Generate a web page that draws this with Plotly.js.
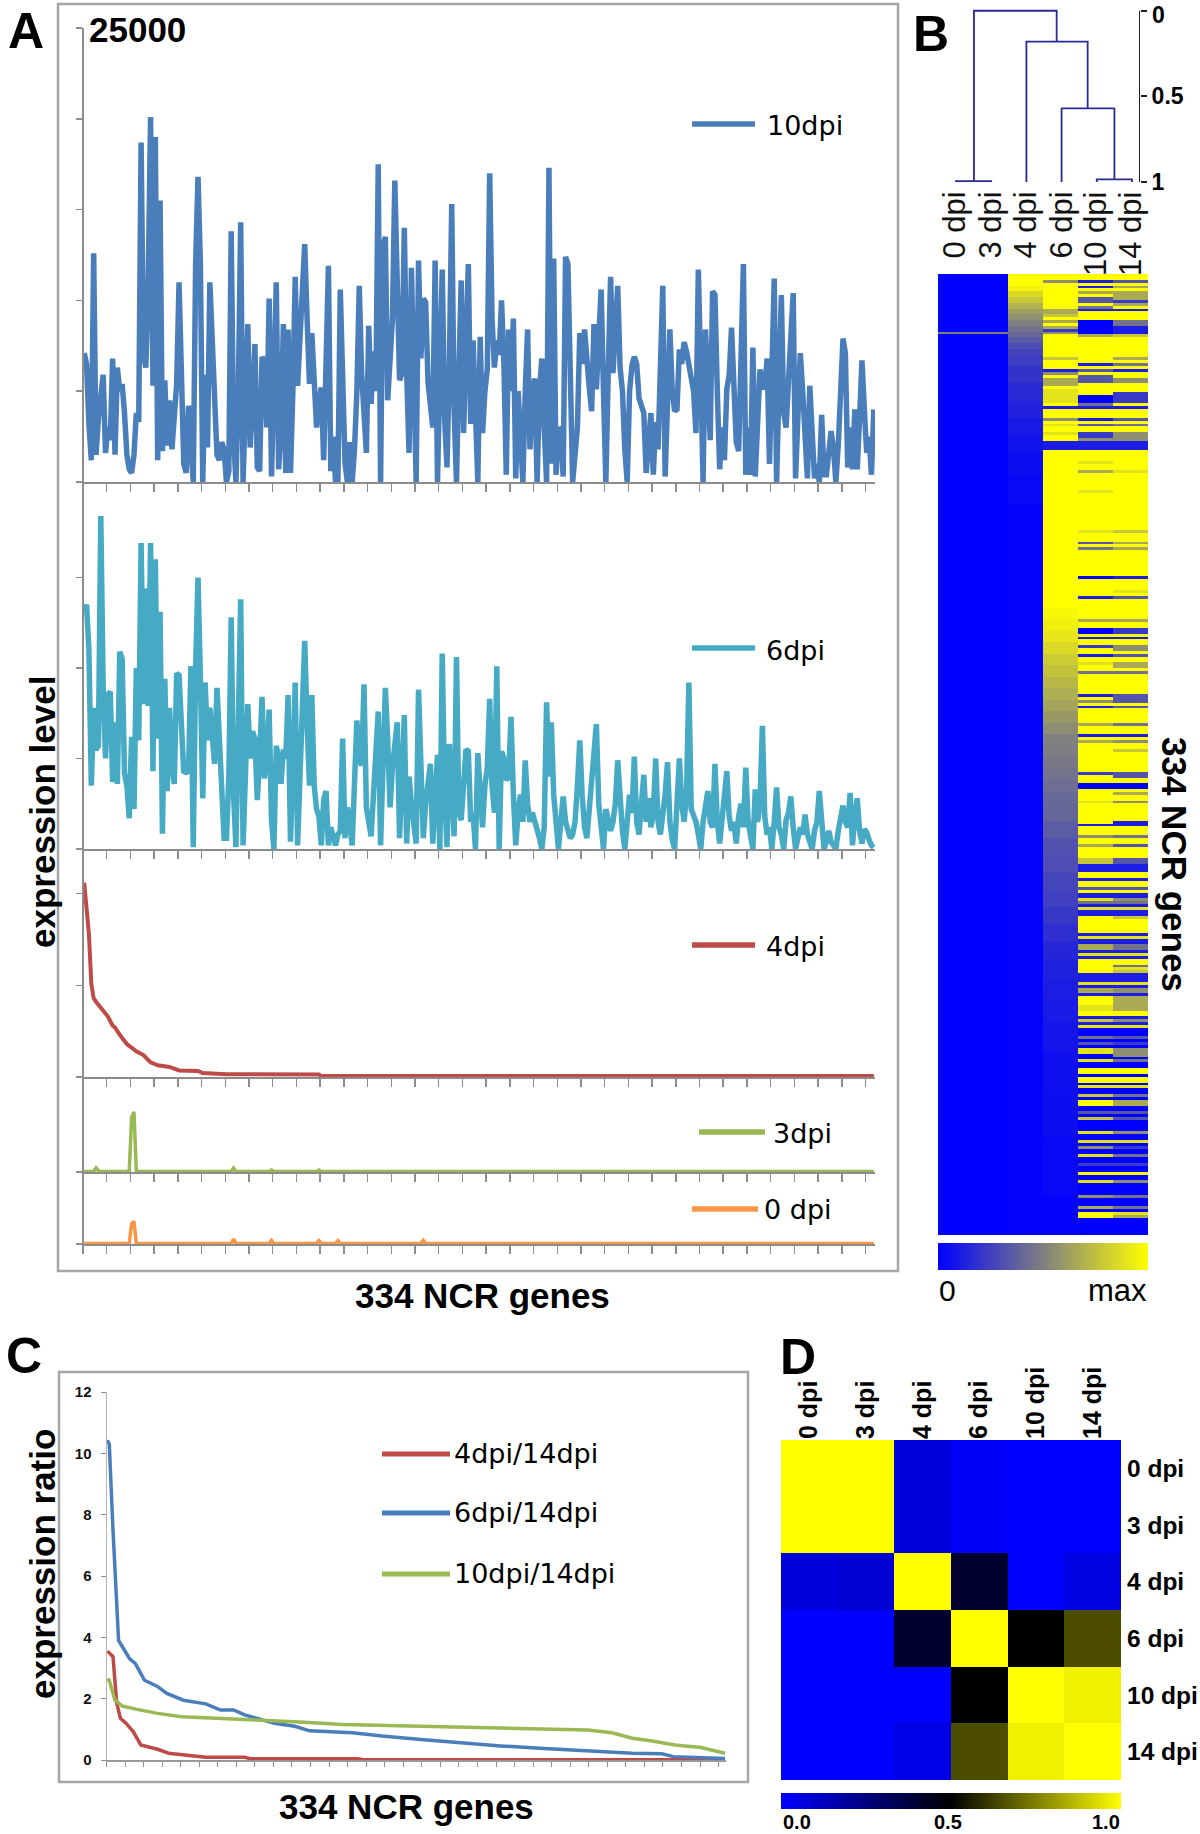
<!DOCTYPE html>
<html><head><meta charset="utf-8">
<script src="https://cdn.plot.ly/plotly-3.0.1.min.js"></script>
<style>html,body{margin:0;padding:0;background:#fff}#c{width:1200px;height:1834px}</style>
</head><body><div id="c"></div>
<script>
// ---------- Panel A data (one value per NCR gene) ----------
const dpi10 = [
7100,6500,3200,1200,12600,1500,3500,4800,5900,1600,
3000,2300,6800,1500,6300,5000,5400,3800,1500,700,
500,1500,3800,3300,18700,7000,6300,11000,20100,5300,
19000,1200,15500,1700,5600,2000,4500,1800,3500,5400,
11000,6000,1000,500,4200,2000,0,12000,16800,12000,
0,5900,1900,11000,8000,4000,1500,1200,2200,1800,
0,600,13800,2500,0,5000,14300,0,5200,8700,
1900,5000,7600,800,600,6900,6500,3000,10100,300,
5000,11000,700,3000,8700,500,8400,500,5000,11300,
5300,7500,10500,13100,9000,5400,8200,5000,3000,4500,
5200,1200,5500,11900,600,2500,0,0,10600,5000,
1000,0,2200,0,1800,5000,10800,6000,3500,1600,
8600,4300,7200,5000,17500,0,13000,13500,4500,6500,
9000,16600,10000,5600,6000,14000,6000,1600,11800,5000,
0,12200,6800,10100,9900,5500,4500,3000,12200,0,
6000,11700,3500,800,6500,15300,4000,0,6000,11100,
2700,7000,12000,3200,7800,4000,0,8000,2700,5000,
6200,17000,9000,6300,7800,7000,10000,6500,400,8400,
5000,9000,200,5000,2200,0,5000,8400,1800,5000,
5700,0,5000,6800,3000,0,17300,1000,12300,400,
3000,2800,300,12400,12000,6000,0,1500,3000,8200,
6500,8400,6500,5200,3900,8700,5100,8000,10600,5000,
0,6000,11300,6000,8500,10800,6300,5000,1800,0,
5000,6400,6900,6500,4600,4200,3800,500,2500,3800,
400,3300,1800,6000,10800,300,5000,8400,5000,3900,
4000,7300,6500,7700,7200,6500,5800,5000,2700,11700,
6000,0,8400,5000,2300,10500,10300,5000,700,3000,
1200,5100,5900,8500,5000,2200,1700,6000,12000,400,
3000,400,7400,300,4000,6200,5500,5100,6800,1000,
6000,11200,0,5000,10300,3800,3000,5500,8500,10400,
200,4000,7100,5000,2500,200,5300,2000,200,1000,
0,3700,400,400,2000,2800,1800,0,2000,5000,
7900,7100,800,3000,700,4000,700,3500,6700,4000,
1600,2500,400,4000];
const dpi6 = [
13000,13500,11000,3500,7800,5500,5700,18400,9000,5000,
8500,8700,3700,7000,3600,10900,10500,4200,3500,1700,
6200,2200,10000,6000,16900,8000,14400,7900,16900,4300,
16000,6100,13100,850,9400,3200,7800,4600,3600,9700,
9600,6000,4200,4300,4200,10100,100,10000,15000,9500,
2800,9200,6000,7800,6500,4700,8900,6000,2500,600,
600,4000,12800,3000,100,6500,13800,200,4500,8000,
5000,6500,6100,2700,5000,8400,3900,5000,7700,1600,
0,5700,5000,3600,5500,5000,8500,400,4500,9200,
200,4500,6500,11500,7000,3500,8500,3500,2200,1800,
200,2700,3200,200,1200,500,200,800,1000,6100,
600,2300,1500,200,3500,7100,5000,4600,9100,2300,
1500,700,3000,5500,7600,200,5000,8900,6000,2300,
4500,5500,7000,600,4000,7400,300,4000,2500,1500,
300,8800,4000,600,2500,4000,4700,300,3000,5200,
0,10800,3000,100,5800,3000,700,10600,2000,1600,
4000,5500,5400,1500,2000,0,5300,3000,1200,3500,
4500,8300,3500,2000,10100,0,5400,5000,3800,4000,
7300,3000,200,2000,3000,1500,4900,2500,1500,2000,
1600,1200,600,0,1200,8100,4000,7000,3000,1500,
0,1500,2900,1500,1000,600,800,1500,3500,6000,
3000,1200,600,2000,3500,5000,6900,2500,800,0,
2200,1500,1000,1500,2500,4900,2500,1000,0,1500,
3000,2000,5100,1500,800,2500,4100,1500,2800,1200,
2000,5000,1500,800,1800,3000,4800,1500,500,0,
2500,5000,2500,1500,3000,9200,2200,1800,1500,800,
0,1500,2500,3200,1500,1200,4700,1500,300,1500,
2500,4300,1800,1000,1500,300,1800,2500,1200,4500,
1500,800,0,3300,1500,2500,6800,1800,800,1200,
0,1500,3400,1200,800,0,1600,2000,2900,1200,
0,600,1200,800,1900,800,400,0,1000,1500,
3200,1500,0,400,1000,400,200,0,1000,1800,
2400,1500,1200,3100,200,1800,2800,1000,300,1100,
900,500,200,100];
const geneIdx = dpi10.map((_, i) => i);
const x4 = [0,1,2,3,4,5,8,10,12,13,15,18,20,22,25,28,31,36,40,48,50,57,60,99,100,333];
const y4 = [10600,9300,7800,5100,4300,4100,3600,3300,2800,2700,2300,1800,1600,1400,1200,800,640,550,360,330,220,200,150,130,60,60];
const x3 = [0,4,5,6,7,19,20,21,22,62,63,64,78,79,80,98,99,100,333];
const y3 = [30,30,220,60,30,30,3000,3300,30,30,220,30,30,110,30,30,110,30,30];
const x0 = [0,19,20,21,22,62,63,64,78,79,80,98,99,100,106,107,108,142,143,144,333];
const y0 = [30,30,1100,1240,30,30,270,30,30,200,30,30,180,30,30,180,30,30,200,30,30];

// ---------- Panel B data ----------
const dpiLabels = ['0 dpi','3 dpi','4 dpi','6 dpi','10 dpi','14 dpi'];
const col2Rows = [0,4,6,8,10,12,14,16,18,20,22,24,26,28,32,38,44,50,56,62,70,80];
const col2Vals = [1,.95,.85,.78,.7,.62,.56,.5,.45,.4,.35,.3,.27,.24,.2,.16,.13,.1,.07,.05,.03,.01];
const col3Rows = [112,116,120,124,128,132,136,140,144,148,152,156,160,164,168,172,176,180,184,190,196,202,208,214,220,226,232,238,245,252,260,270,285,300,320];
const col3Vals = [1,.97,.94,.9,.85,.8,.76,.72,.68,.64,.6,.55,.5,.49,.47,.45,.43,.41,.4,.36,.32,.3,.27,.25,.22,.18,.15,.125,.11,.1,.08,.06,.05,.03,.01];
// stripes: [first row, last row, level 0-9]
const col3Runs = [[2,2,5],[12,13,6],[14,14,7],[16,16,6],[18,18,6],[19,19,2],[20,20,5],[29,29,7],[33,33,1],[34,34,5],[36,37,6],[38,38,6],[40,44,8],[46,46,1],[50,50,5],[52,52,8],[55,55,8],[58,60,1]];
const col4Runs = [[262,333,0],[2,2,1],[4,4,1],[6,6,6],[8,9,3],[11,11,4],[12,12,1],[16,20,0],[21,21,6],[31,31,1],[33,33,3],[35,35,3],[36,37,3],[42,44,0],[45,45,4],[46,46,1],[50,50,1],[52,52,3],[55,56,2],[57,57,5],[58,60,1],
[65,65,8],[68,68,6],[75,75,8],[89,89,8],[93,93,3],[95,95,4],[105,105,0],[112,112,1],[120,120,6],[123,124,0],[126,126,1],[129,129,2],[132,132,1],[135,135,8],[138,138,4],[146,146,1],[148,148,5],[150,150,1],[156,156,6],[160,160,1],[162,162,6],[173,173,2],[177,178,0],[183,183,8],[191,191,1],[195,195,5],[198,198,6],
[203,204,7],[205,207,1],[210,210,1],[213,213,3],[215,216,1],[217,217,8],[218,218,4],[219,219,1],[220,220,8],[221,222,1],[229,229,1],[230,230,8],[231,232,1],[233,234,6],[235,235,1],[236,236,8],[237,237,1],[243,245,1],[246,246,8],[247,247,1],[248,249,6],[250,250,1],[254,255,8],[258,258,1],[259,259,7],[260,260,1],[261,261,8],
[265,265,4],[267,267,3],[269,270,8],[273,273,8],[276,277,9],[279,280,9],[282,282,8],[285,285,7],[287,288,9],[291,291,3],[293,293,7],[298,298,8],[301,301,8],[303,303,5],[306,306,8],[309,309,2],[312,312,9],[315,315,8],[320,320,5],[324,324,6],[326,327,9]];
const col5Runs = [[262,333,0],[2,2,3],[4,4,6],[6,8,6],[9,9,2],[10,10,6],[12,12,1],[16,17,4],[18,20,1],[21,21,7],[29,29,6],[31,31,4],[33,33,1],[36,37,5],[41,44,2],[46,46,1],[50,50,3],[52,52,4],[55,56,5],[57,57,5],[58,60,1],
[68,68,8],[89,89,7],[93,93,6],[95,95,6],[105,105,1],[110,110,8],[112,112,3],[120,120,6],[123,124,2],[126,126,1],[129,130,5],[132,132,3],[135,136,6],[138,138,4],[146,147,3],[148,148,3],[150,150,3],[156,156,4],[160,160,1],[162,162,5],[165,165,7],[173,174,3],[177,178,0],[180,180,6],[183,183,5],[190,191,1],[195,195,4],[198,198,3],
[203,204,3],[205,207,1],[210,210,1],[213,213,3],[215,216,1],[217,217,5],[218,218,4],[219,219,1],[220,220,8],[221,222,1],[223,223,7],[229,229,1],[230,230,8],[231,232,1],[233,234,4],[235,235,1],[236,236,8],[237,237,1],[240,240,4],[241,241,8],[242,242,7],[243,245,1],[246,246,8],[247,247,1],[248,249,5],[250,250,1],[251,255,6],[258,258,1],[259,259,5],[260,260,1],[261,261,8],
[265,265,3],[267,267,2],[269,271,5],[273,273,4],[276,277,9],[279,280,9],[282,282,8],[285,285,4],[287,288,6],[291,291,3],[293,293,3],[298,298,5],[301,301,8],[303,303,2],[306,306,4],[309,309,2],[312,312,9],[315,315,5],[320,320,4],[324,324,4],[326,326,8],[327,327,6]];
const outlierRow = 20;
// dendrogram: merge segments in leaf units and distance, null separates
const dendroX = [0,0,1,1,null,0.51,0.51,2.86,2.86,null,2,2,3.74,3.74,null,3,3,4.5,4.5,null,4,4,5,5];
const dendroY = [1.01,0.995,0.995,1.01,null,0.995,0,0,0.18,null,1.01,0.18,0.18,0.57,null,1.01,0.57,0.57,0.985,null,1.0,0.985,0.985,1.0];
const scaleBarX = [5.227,5.227];
const scaleBarY = [0,1];

// ---------- Panel C data ----------
const blueX = [0,1,3,5,6,8,12,15,20,27,32,41,53,61,68,74,90,101,109,132,148,169,193,212,233,259,283,299,305,333];
const blueY = [10.43,10.3,7.5,4.8,3.9,3.7,3.3,3.15,2.6,2.4,2.17,1.95,1.83,1.63,1.63,1.47,1.2,1.1,.95,.89,.78,.67,.54,.46,.38,.3,.22,.2,.11,.05];
const redX = [0,1,3,5,7,10,14,18,22,27,33,43,51,53,74,77,135,138,333];
const redY = [3.55,3.5,3.37,1.85,1.36,1.2,.92,.49,.43,.35,.22,.16,.13,.09,.09,.04,.04,.01,.01];
const greenX = [0,1,4,8,16,27,40,53,66,101,127,159,193,206,246,259,272,283,293,306,320,333];
const greenY = [2.65,2.6,1.96,1.76,1.65,1.52,1.41,1.38,1.33,1.25,1.16,1.12,1.09,1.05,1.01,.98,.89,.71,.63,.49,.41,.22];

// ---------- Panel D data ----------
const corr = [
[1,1,.07,.01,0,0],
[1,1,.07,.01,0,0],
[.07,.09,1,.41,0,.06],
[0,0,.41,1,.5,.65],
[0,0,0,.5,1,.97],
[0,0,.05,.65,.97,1]];

// ---------- helpers ----------
const W = 1200, H = 1834;
const px = v => v / W, py = v => 1 - v / H;
const grey = '#8c8c8c';
function fillRuns(base, runs){const a=new Array(334).fill(base);runs.forEach(([s,e,l])=>{for(let r=s;r<=e;r++)a[r]=l/9;});return a;}
function stepped(base,rows,vals){const a=base.slice();rows.forEach((r,k)=>{const end=k+1<rows.length?rows[k+1]:334;for(let i=r;i<end;i++)a[i]=vals[k];});return a;}

const c0 = new Array(334).fill(0); c0[outlierRow]=.5;
const c1 = c0.slice();
const c2 = stepped(new Array(334).fill(0),col2Rows,col2Vals);
const c3 = stepped(fillRuns(1,col3Runs),col3Rows,col3Vals);
const c4 = fillRuns(1,col4Runs);
const c5 = fillRuns(1,col5Runs);
const rowsB = c0.map((_,r)=>[c0[r],c1[r],c2[r],c3[r],c4[r],c5[r]]);

const layout = {width:W,height:H,margin:{l:0,r:0,t:0,b:0,pad:0},paper_bgcolor:'#fff',plot_bgcolor:'rgba(0,0,0,0)',showlegend:false,shapes:[],annotations:[],
  font:{family:'Liberation Sans, Arial, sans-serif',color:'#000'}};
const data = [];

function aPanel(n,color,lw,xs,ys,top,bottom,maxV,ticks){
  const xk = 'xaxis'+n, yk='yaxis'+n;
  layout[xk] = {domain:[px(83),px(875)],range:[-0.5,333.5],anchor:'y'+n,showgrid:false,zeroline:false,showline:true,linecolor:grey,linewidth:2,
    ticks:'outside',ticklen:8,tickwidth:1.5,tickcolor:grey,tick0:-0.5,dtick:10,showticklabels:false,fixedrange:true};
  layout[yk] = {domain:[py(bottom),py(top)],range:[0,maxV],anchor:'x'+n,showgrid:false,zeroline:false,showline:false,
    ticks:'outside',ticklen:6,tickwidth:1.5,tickcolor:grey,tickmode:'array',tickvals:ticks,showticklabels:false,fixedrange:true};
  data.push({type:'scatter',mode:'lines',x:xs,y:ys,xaxis:'x'+n,yaxis:'y'+n,cliponaxis:false,line:{color:color,width:lw,shape:'linear'},hoverinfo:'skip'});
}
aPanel('',  '#4a7ebb',5.5,geneIdx,dpi10,28,482,25000,[0,5000,10000,15000,20000,25000]);
aPanel(2,'#46aac5',5.5,geneIdx,dpi6,500,849,19280,[0,5000,10000,15000]);
aPanel(3,'#be4b48',4,x4,y4,858,1077,11950,[0,5000,10000]);
aPanel(4,'#98b954',3.5,x3,y3,1085,1172,4780,[0]);
aPanel(5,'#f79646',3.5,x0,y0,1180,1244,3500,[0]);
layout.xaxis.anchor='y'; layout.yaxis.anchor='x';
data.forEach((t,i)=>{ t.xaxis = i? 'x'+(i+1):'x'; t.yaxis = i? 'y'+(i+1):'y'; });

// Panel C
layout.xaxis6 = {domain:[px(106.5),px(726)],range:[-0.5,333.5],anchor:'y6',showgrid:false,zeroline:false,showline:true,linecolor:'#9a9a9a',linewidth:1.5,
  ticks:'outside',ticklen:5,tickwidth:1,tickcolor:'#8c8c8c',tick0:-0.5,dtick:10,showticklabels:false,fixedrange:true};
layout.yaxis6 = {domain:[py(1760),py(1392)],range:[0,12],anchor:'x6',showgrid:false,zeroline:false,showline:true,linecolor:'#b4b4b4',linewidth:1,
  ticks:'outside',ticklen:5,tickwidth:1,tickcolor:'#8c8c8c',tickvals:[0,2,4,6,8,10,12],ticktext:['0','2','4','6','8','10','12'],
  tickfont:{family:'Liberation Sans Narrow, Liberation Sans',size:15,weight:700,color:'#111'},ticklabelstandoff:6,fixedrange:true};
[[redX,redY,'#be4b48'],[blueX,blueY,'#4a7ebb'],[greenX,greenY,'#98b954']].forEach(([xs,ys,c])=>{
  data.push({type:'scatter',mode:'lines',x:xs,y:ys,xaxis:'x6',yaxis:'y6',cliponaxis:false,line:{color:c,width:3.5},hoverinfo:'skip'});
});

// Panel B heatmap
layout.xaxis7 = {domain:[px(938),px(1148)],range:[-0.5,5.5],anchor:'y7',showgrid:false,zeroline:false,showline:false,ticks:'',showticklabels:false,fixedrange:true};
layout.yaxis7 = {domain:[py(1235),py(274)],range:[333.5,-0.5],anchor:'x7',showgrid:false,zeroline:false,showline:false,ticks:'',showticklabels:false,fixedrange:true};
data.push({type:'heatmap',z:rowsB,xaxis:'x7',yaxis:'y7',zmin:0,zmax:1,colorscale:[[0,'#0000ff'],[.5,'#808080'],[1,'#ffff00']],hoverinfo:'skip',
  colorbar:{orientation:'h',x:px(938),xanchor:'left',xref:'paper',y:py(1243),yanchor:'top',yref:'paper',len:210/W,lenmode:'fraction',thickness:27,thicknessmode:'pixels',outlinewidth:0,xpad:0,ypad:0,showticklabels:false,ticks:''}});

// Panel D heatmap
layout.xaxis8 = {domain:[px(781),px(1121)],range:[-0.5,5.5],anchor:'y8',side:'top',showgrid:false,zeroline:false,showline:false,ticks:'',
  tickmode:'array',tickvals:[0,1,2,3,4,5],ticktext:dpiLabels,tickangle:-90,tickfont:{family:'Liberation Sans',size:25,weight:700},ticklabelstandoff:0,fixedrange:true};
layout.yaxis8 = {domain:[py(1780),py(1440)],range:[5.5,-0.5],anchor:'x8',side:'right',showgrid:false,zeroline:false,showline:false,ticks:'',
  tickmode:'array',tickvals:[0,1,2,3,4,5],ticktext:dpiLabels,tickfont:{family:'Liberation Sans',size:24.5,weight:700},ticklabelstandoff:5,fixedrange:true};
data.push({type:'heatmap',z:corr,xaxis:'x8',yaxis:'y8',zmin:0,zmax:1,colorscale:[[0,'#0000ff'],[.5,'#000000'],[1,'#ffff00']],hoverinfo:'skip',
  colorbar:{orientation:'h',x:px(781),xanchor:'left',xref:'paper',y:py(1793),yanchor:'top',yref:'paper',len:340/W,lenmode:'fraction',thickness:16,thicknessmode:'pixels',outlinewidth:0,xpad:0,ypad:0,showticklabels:false,ticks:''}});

// Dendrogram
layout.xaxis9 = {domain:[px(938),px(1140)],range:[-0.511,5.227],anchor:'y9',visible:false,fixedrange:true};
layout.yaxis9 = {domain:[py(182),py(2)],range:[1,-0.051],anchor:'x9',side:'right',showgrid:false,zeroline:false,showline:false,
  ticks:'outside',ticklen:6,tickwidth:2,tickcolor:'#222',tickvals:[0,0.5,1],ticktext:[' ','0.5','1'],tickfont:{family:'Liberation Sans',size:23,weight:700},fixedrange:true};
data.push({type:'scatter',mode:'lines',x:dendroX,y:dendroY,xaxis:'x9',yaxis:'y9',cliponaxis:false,connectgaps:false,line:{color:'#2a2a96',width:1.8},hoverinfo:'skip'});
data.push({type:'scatter',mode:'lines',x:scaleBarX,y:scaleBarY,xaxis:'x9',yaxis:'y9',cliponaxis:false,line:{color:'#222',width:2},hoverinfo:'skip'});

// frames, long axis, legend keys
function rect(x0,y0,x1,y1){layout.shapes.push({type:'rect',xref:'paper',yref:'paper',x0:px(x0),x1:px(x1),y0:py(y0),y1:py(y1),line:{color:'#a6a6a6',width:2.5},fillcolor:'rgba(0,0,0,0)',layer:'below'});}
rect(58,4,898,1271); rect(59,1372,748,1782);
layout.shapes.push({type:'line',xref:'paper',yref:'paper',x0:px(83),x1:px(83),y0:py(28),y1:py(1254),line:{color:grey,width:2},layer:'above'});
function key(x0,x1,y,c,w){layout.shapes.push({type:'line',xref:'paper',yref:'paper',x0:px(x0),x1:px(x1),y0:py(y),y1:py(y),line:{color:c,width:w||5.5}});}
function txt(t,x,y,size,o){layout.annotations.push(Object.assign({text:t,xref:'paper',yref:'paper',x:px(x),y:py(y),showarrow:false,xanchor:'left',yanchor:'middle',borderpad:0,
  font:Object.assign({family:'Liberation Sans',size:size,color:'#000'},(o&&o.font)||{})},o&&o.a||{}));}
const LG={font:{family:'DejaVu Sans'}};
key(692,755,124,'#4a7ebb'); txt('10dpi',766,125,27,LG);
key(692,755,648,'#46aac5'); txt('6dpi',765,650,27,LG);
key(692,755,945,'#be4b48'); txt('4dpi',765,946,27,LG);
key(699,765,1132,'#98b954'); txt('3dpi',772,1133,27,LG);
key(692,758,1209,'#f79646'); txt('0 dpi',763,1209,27,LG);
key(382,450,1454,'#be4b48',5); txt('4dpi/14dpi',453,1453,27,LG);
key(382,450,1513,'#4a7ebb',5); txt('6dpi/14dpi',453,1512,27,LG);
key(382,450,1574,'#98b954',5); txt('10dpi/14dpi',453,1573,27,LG);
const B={font:{weight:700}};
txt('A',7,31,50,B); txt('B',912,34,50,B); txt('C',5,1356,50,B); txt('D',779,1357,50,B);
txt('25000',88,29,35,B);
txt('0',1151,15,23,B);
txt('expression level',42,812,35,{font:{weight:700},a:{textangle:-90,xanchor:'center'}});
txt('334 NCR genes',482,1295,35,{font:{weight:700},a:{xanchor:'center'}});
txt('expression ratio',42,1564,35,{font:{weight:700},a:{textangle:-90,xanchor:'center'}});
txt('334 NCR genes',406,1806,35,{font:{weight:700},a:{xanchor:'center'}});
txt('334 NCR genes',1174,864,35,{font:{weight:700},a:{textangle:90,xanchor:'center'}});
txt('0',938,1290,30); txt('max',1148,1290,31,{a:{xanchor:'right'}});
txt('0.0',782,1822,20,B); txt('0.5',948,1822,20,{font:{weight:700},a:{xanchor:'center'}}); txt('1.0',1121,1822,20,{font:{weight:700},a:{xanchor:'right'}});
// rotated column labels of panel B, start-aligned at their top end
const bLabelX = [954,990,1025,1061,1096,1131];
dpiLabels.forEach((t,i)=>txt(t,bLabelX[i],191,31,{font:{color:'#111'},a:{textangle:-90,xanchor:'center',yanchor:'top'}}));

Plotly.newPlot('c',data,layout,{displayModeBar:false,staticPlot:true});
</script></body></html>
